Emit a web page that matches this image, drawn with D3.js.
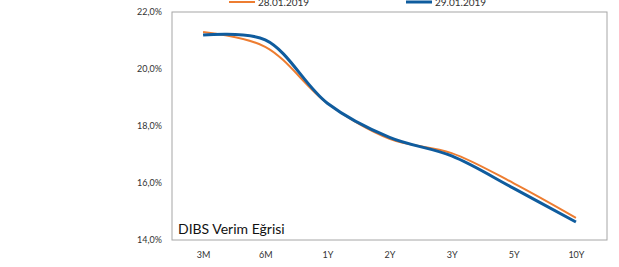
<!DOCTYPE html>
<html><head><meta charset="utf-8">
<script src="https://cdn.jsdelivr.net/npm/d3@7"></script>
<style>body{margin:0;background:#fff}svg{display:block}text{font-family:Lato,"Open Sans",sans-serif}</style>
</head><body><svg id="c" width="619" height="267"></svg>
<script>
const categories = ["3M","6M","1Y","2Y","3Y","5Y","10Y"];
const series1Name = "28.01.2019";
const series1 = [21.30, 20.78, 18.80, 17.55, 17.05, 15.99, 14.78];
const series2Name = "29.01.2019";
const series2 = [21.19, 21.02, 18.80, 17.60, 16.95, 15.81, 14.63];
const yTicks = [14, 16, 18, 20, 22];
const title = "DIBS Verim Eğrisi";

const svg = d3.select("#c");
const L = 172, R = 607, T = 12, B = 240;
const x = d3.scalePoint().domain(categories).range([L, R]).padding(0.5);
const y = d3.scaleLinear().domain([14, 22]).range([B, T]);

svg.append("rect").attr("x", L).attr("y", T).attr("width", R - L).attr("height", B - T)
  .attr("fill", "none").attr("stroke", "#a6a6a6").attr("stroke-width", 1);

const fmt = v => v.toFixed(1).replace(".", ",") + "%";
const yAxis = d3.axisLeft(y).tickValues(yTicks).tickFormat(fmt).tickSize(0).tickPadding(10);
const gy = svg.append("g").attr("transform", `translate(${L},0)`).call(yAxis);
gy.select(".domain").remove();
gy.selectAll("text").attr("font-size", 9).attr("fill", "#333");

const xAxis = d3.axisBottom(x).tickSize(0).tickPadding(12);
const gx = svg.append("g").attr("transform", `translate(0,${B})`).call(xAxis);
gx.select(".domain").remove();
gx.selectAll("text").attr("font-size", 9).attr("fill", "#333");

const line = d3.line().x((d, i) => x(categories[i])).y(d => y(d)).curve(d3.curveCatmullRom.alpha(0.5));
svg.append("path").datum(series1).attr("d", line).attr("fill", "none")
  .attr("stroke", "#ED7D31").attr("stroke-width", 2);
svg.append("path").datum(series2).attr("d", line).attr("fill", "none")
  .attr("stroke", "#0F5C9E").attr("stroke-width", 3);

// legend
const leg = [{name: series1Name, c: "#ED7D31", w: 2, x0: 229}, {name: series2Name, c: "#0F5C9E", w: 3, x0: 406}];
leg.forEach(l => {
  svg.append("line").attr("x1", l.x0).attr("x2", l.x0 + 26).attr("y1", 2).attr("y2", 2)
    .attr("stroke", l.c).attr("stroke-width", l.w);
  svg.append("text").attr("x", l.x0 + 29).attr("y", 6).attr("font-size", 10).attr("fill", "#333").text(l.name);
});

svg.append("text").attr("x", 178).attr("y", 234).attr("font-size", 14).attr("fill", "#111").text(title);
</script></body></html>
